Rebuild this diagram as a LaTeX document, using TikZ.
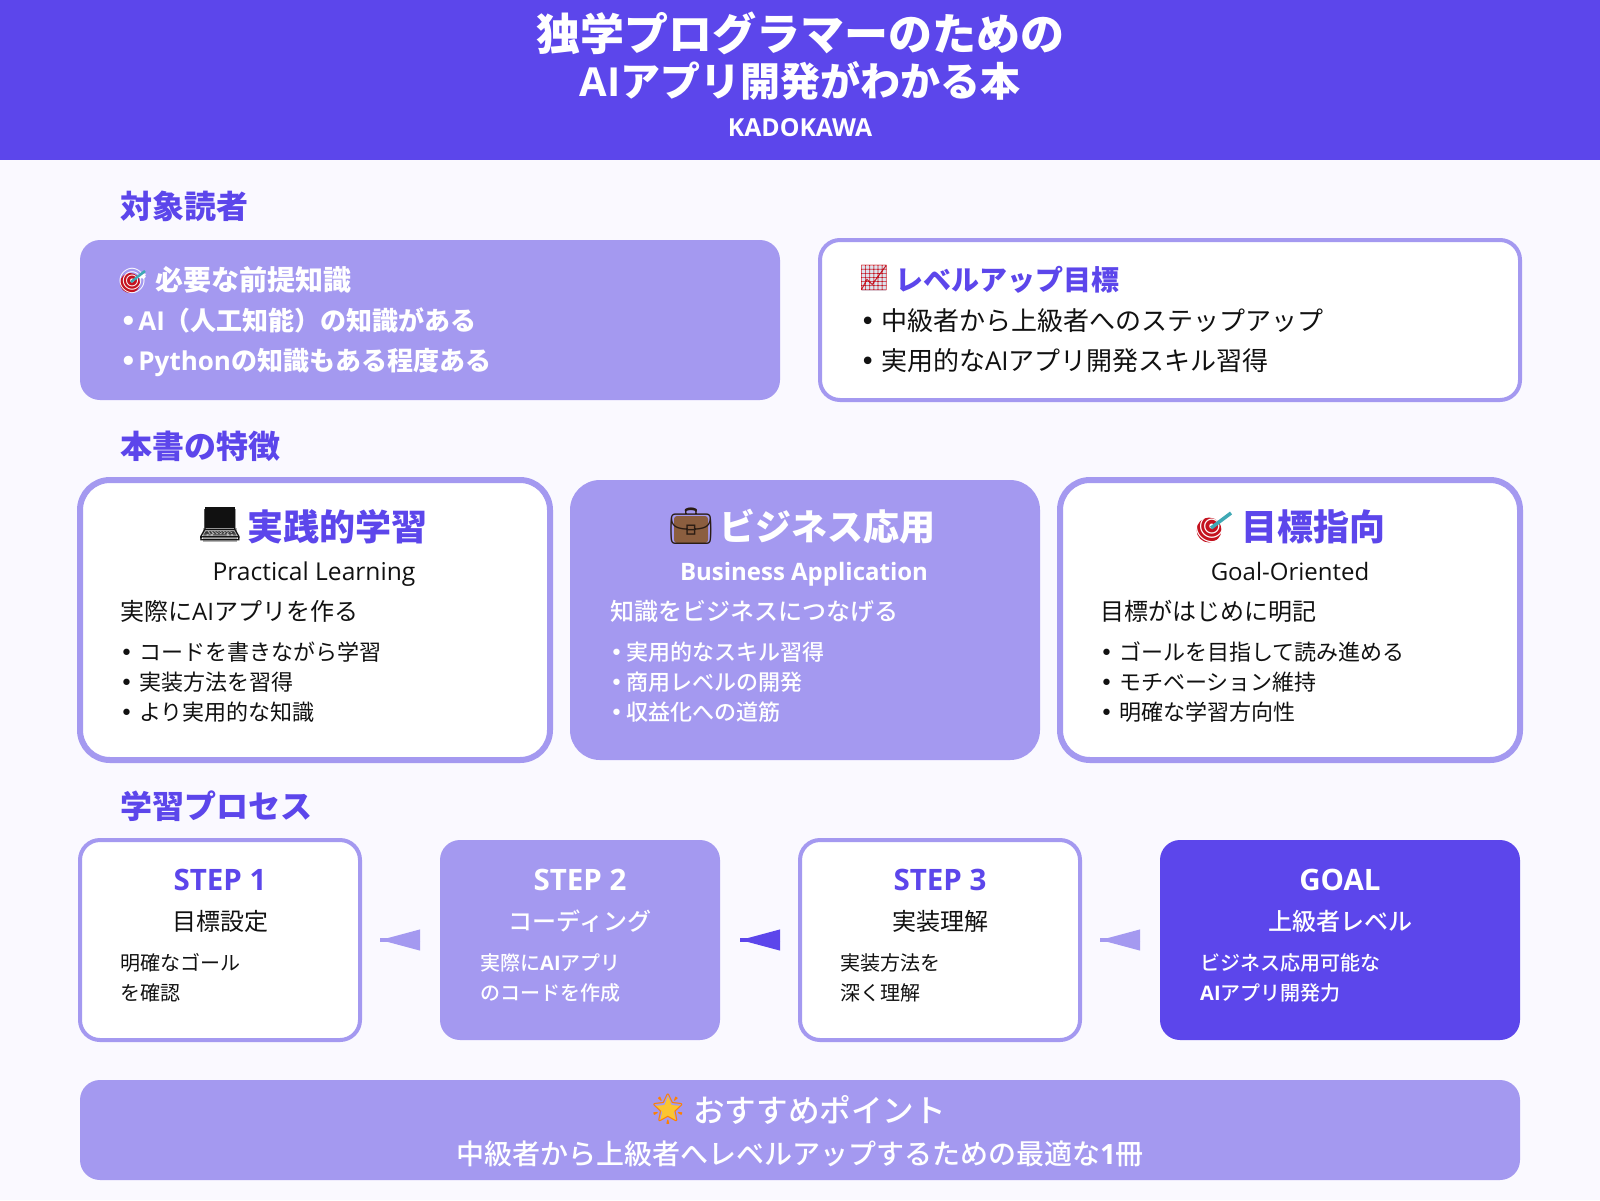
\documentclass[tikz,border=0pt]{standalone}
\usepackage{fontspec}
\setmainfont{Noto Sans CJK JP}
\newfontfamily\jpmed{Noto Sans CJK JP Medium}
\newfontfamily\latfont{Open Sans}
\newfontfamily\dotfont{DejaVu Sans}
\newfontfamily\emojifont{Noto Emoji}
\usetikzlibrary{arrows.meta,shapes.geometric}
\definecolor{violet}{HTML}{5C46EB}
\definecolor{lilac}{HTML}{A499F0}
\definecolor{paper}{HTML}{FAF9FF}
\definecolor{ink}{HTML}{111111}
\definecolor{dartred}{HTML}{C4121F}
\definecolor{dartteal}{HTML}{3FA9B5}
\definecolor{chartgrey}{HTML}{DDE4EE}
\definecolor{caseb}{HTML}{8B5E3F}
\definecolor{gold}{HTML}{FBC531}
\newcommand{\fs}[1]{\fontsize{#1}{#1}\selectfont}
\newcommand{\lat}[1]{{\latfont #1}}
\newcommand{\bul}[1][.8em]{\makebox[#1][l]{\dotfont •}}
\tikzset{
    solidbox/.style={rectangle,inner sep=0,outer sep=0,anchor=north west,fill=lilac},
    linebox/.style={rectangle,inner sep=0,outer sep=0,anchor=north west,fill=white,draw=lilac},
    left text/.style={inner sep=0,anchor=base west},
    mid text/.style={inner sep=0,anchor=base},
    emoji mark/.style={inner sep=0,anchor=center},
    flowline/.style={line width=4pt,shorten <=20pt,shorten >=20pt,postaction={draw,-{Triangle[length=40pt,width=20pt]}}}
}
\begin{document}
\begin{tikzpicture}[x=1pt,y=-1pt]
            \useasboundingbox (0,0) rectangle (1600,1200);
            \fill[paper] (0,0) rectangle (1600,1200);
            \fill[violet] (0,0) rectangle (1600,160);
            \node[mid text,white,font=\bfseries\fs{44}] (title one) at (800,50) {独学プログラマーのための};
            \node[mid text,white,font=\bfseries\fs{40}] (title two) at (800,96) {\lat{AI}アプリ開発がわかる本};
            \node[mid text,white,font=\fs{24.8}] (publisher) at (800,136) {\lat{\bfseries KADOKAWA}};
            \node[left text,violet,font=\bfseries\fs{32}] (head readers) at (120,218) {対象読者};
            \node[solidbox,minimum width=700pt,minimum height=160pt,rounded corners=20pt] (prereq) at (80,240) {};
            \fill[dartred] (130,283) circle (10);
            \node[emoji mark,white,font=\emojifont\fs{25}] (prereq mark) at (133,281) {🎯};
            \draw[dartteal,line width=2.5pt] (131,282)--(145,271);
            \node[left text,white,font=\bfseries\fs{28}] (prereq head) at (155,290) {必要な前提知識};
            \node[left text,white,font=\bfseries\fs{26}] (prereq a) at (120,330) {\bul[.7em]\lat{\bfseries AI}（人工知能）の知識がある};
            \node[left text,white,font=\bfseries\fs{26}] (prereq b) at (120,370) {\bul[.7em]\lat{\bfseries Python}の知識もある程度ある};
            \node[linebox,line width=4pt,minimum width=700pt,minimum height=160pt,rounded corners=20pt] (levelup) at (820,240) {};
            \fill[chartgrey] (862,266) rectangle (886,291);
            \node[emoji mark,dartred,font=\emojifont\fs{25}] (levelup mark) at (874,278) {📈};
            \node[left text,violet,font=\bfseries\fs{28}] (levelup head) at (895,290) {レベルアップ目標};
            \node[left text,ink,font=\fs{26}] (levelup a) at (860,330) {\bul 中級者から上級者へのステップアップ};
            \node[left text,ink,font=\fs{26}] (levelup b) at (860,370) {\bul 実用的な\lat{AI}アプリ開発スキル習得};
            \node[left text,violet,font=\bfseries\fs{32}] (head features) at (120,458) {本書の特徴};
            \node[linebox,line width=6pt,minimum width=470pt,minimum height=280pt,rounded corners=30pt] (practice) at (80,480) {};
            \fill[ink] (205,507) rectangle (235,528);
            \fill[gray!60] (203,528) rectangle (237,542);
            \node[emoji mark,ink,font=\emojifont\fs{36}] (practice mark) at (220,525) {💻};
            \node[left text,violet,font=\bfseries\fs{36}] (practice head) at (247,540) {実践的学習};
            \node[mid text,ink,font=\fs{24.6}] (practice en) at (314,580) {\lat{Practical Learning}};
            \node[left text,ink,font=\fs{24}] (practice sub) at (120,620) {実際に\lat{AI}アプリを作る};
            \node[left text,ink,font=\fs{22}] (practice a) at (120,660) {\bul[.86em]コードを書きながら学習};
            \node[left text,ink,font=\fs{22}] (practice b) at (120,690) {\bul[.86em]実装方法を習得};
            \node[left text,ink,font=\fs{22}] (practice c) at (120,720) {\bul[.86em]より実用的な知識};
            \node[solidbox,minimum width=470pt,minimum height=280pt,rounded corners=30pt] (business) at (570,480) {};
            \fill[caseb,rounded corners=3pt] (674,516) rectangle (708,543);
            \node[emoji mark,black!70!caseb,font=\emojifont\fs{36}] (business mark) at (691,526) {💼};
            \node[left text,white,font=\bfseries\fs{36}] (business head) at (719,540) {ビジネス応用};
            \node[mid text,white,font=\fs{24}] (business en) at (804,580) {\lat{\bfseries Business Application}};
            \node[left text,white,font=\jpmed\fs{24}] (business sub) at (610,620) {知識をビジネスにつなげる};
            \node[left text,white,font=\jpmed\fs{22}] (business a) at (610,660) {\bul[.72em]実用的なスキル習得};
            \node[left text,white,font=\jpmed\fs{22}] (business b) at (610,690) {\bul[.72em]商用レベルの開発};
            \node[left text,white,font=\jpmed\fs{22}] (business c) at (610,720) {\bul[.72em]収益化への道筋};
            \node[linebox,line width=6pt,minimum width=460pt,minimum height=280pt,rounded corners=30pt] (goal oriented) at (1060,480) {};
            \fill[dartred] (1209,530) circle (12.5);
            \node[emoji mark,white,font=\emojifont\fs{32}] (goal mark) at (1213,527) {🎯};
            \draw[dartteal,line width=3.5pt] (1211,528)--(1231,513);
            \node[left text,violet,font=\bfseries\fs{36}] (goal head) at (1241,540) {目標指向};
            \node[mid text,ink,font=\fs{24}] (goal en) at (1290,580) {\lat{Goal-Oriented}};
            \node[left text,ink,font=\fs{24}] (goal sub) at (1100,620) {目標がはじめに明記};
            \node[left text,ink,font=\fs{22}] (goal a) at (1100,660) {\bul[.86em]ゴールを目指して読み進める};
            \node[left text,ink,font=\fs{22}] (goal b) at (1100,690) {\bul[.86em]モチベーション維持};
            \node[left text,ink,font=\fs{22}] (goal c) at (1100,720) {\bul[.86em]明確な学習方向性};
            \node[left text,violet,font=\bfseries\fs{32}] (head process) at (120,818) {学習プロセス};
            \node[linebox,line width=4pt,minimum width=280pt,minimum height=200pt,rounded corners=20pt] (step one) at (80,840) {};
            \node[mid text,violet,font=\fs{29.5}] (step one head) at (220,890) {\lat{\bfseries STEP 1}};
            \node[mid text,ink,font=\fs{24}] (step one sub) at (220,930) {目標設定};
            \node[left text,ink,font=\fs{20}] (step one a) at (120,970) {明確なゴール};
            \node[left text,ink,font=\fs{20}] (step one b) at (120,1000) {を確認};
            \node[solidbox,minimum width=280pt,minimum height=200pt,rounded corners=20pt] (step two) at (440,840) {};
            \node[mid text,white,font=\fs{29.5}] (step two head) at (580,890) {\lat{\bfseries STEP 2}};
            \node[mid text,white,font=\jpmed\fs{24}] (step two sub) at (580,930) {コーディング};
            \node[left text,white,font=\jpmed\fs{20}] (step two a) at (480,970) {実際に\lat{\bfseries AI}アプリ};
            \node[left text,white,font=\jpmed\fs{20}] (step two b) at (480,1000) {のコードを作成};
            \node[linebox,line width=4pt,minimum width=280pt,minimum height=200pt,rounded corners=20pt] (step three) at (800,840) {};
            \node[mid text,violet,font=\fs{29.5}] (step three head) at (940,890) {\lat{\bfseries STEP 3}};
            \node[mid text,ink,font=\fs{24}] (step three sub) at (940,930) {実装理解};
            \node[left text,ink,font=\fs{20}] (step three a) at (840,970) {実装方法を};
            \node[left text,ink,font=\fs{20}] (step three b) at (840,1000) {深く理解};
            \node[solidbox,fill=violet,minimum width=360pt,minimum height=200pt,rounded corners=20pt] (step goal) at (1160,840) {};
            \node[mid text,white,font=\fs{29.5}] (step goal head) at (1340,890) {\lat{\bfseries GOAL}};
            \node[mid text,white,font=\jpmed\fs{24}] (step goal sub) at (1340,930) {上級者レベル};
            \node[left text,white,font=\jpmed\fs{20}] (step goal a) at (1200,970) {ビジネス応用可能な};
            \node[left text,white,font=\jpmed\fs{20}] (step goal b) at (1200,1000) {\lat{\bfseries AI}アプリ開発力};
            \draw[flowline,lilac] (step two) -- (step one);
            \draw[flowline,violet] (step three) -- (step two);
            \draw[flowline,lilac] (step goal) -- (step three);
            \node[solidbox,minimum width=1440pt,minimum height=100pt,rounded corners=20pt] (point box) at (80,1080) {};
            \node[star,star points=5,star point ratio=2.2,fill=gold,minimum size=27pt,inner sep=0] (point star) at (668,1110) {};
            \node[emoji mark,orange,font=\emojifont\fs{30}] (point mark) at (668,1109) {🌟};
            \node[left text,white,font=\jpmed\fs{31.6}] (point head) at (693,1122) {おすすめポイント};
            \node[mid text,white,font=\jpmed\fs{28}] (point text) at (800,1164) {中級者から上級者へレベルアップするための最適な\lat{\bfseries 1}冊};
        \end{tikzpicture}
\end{document}
